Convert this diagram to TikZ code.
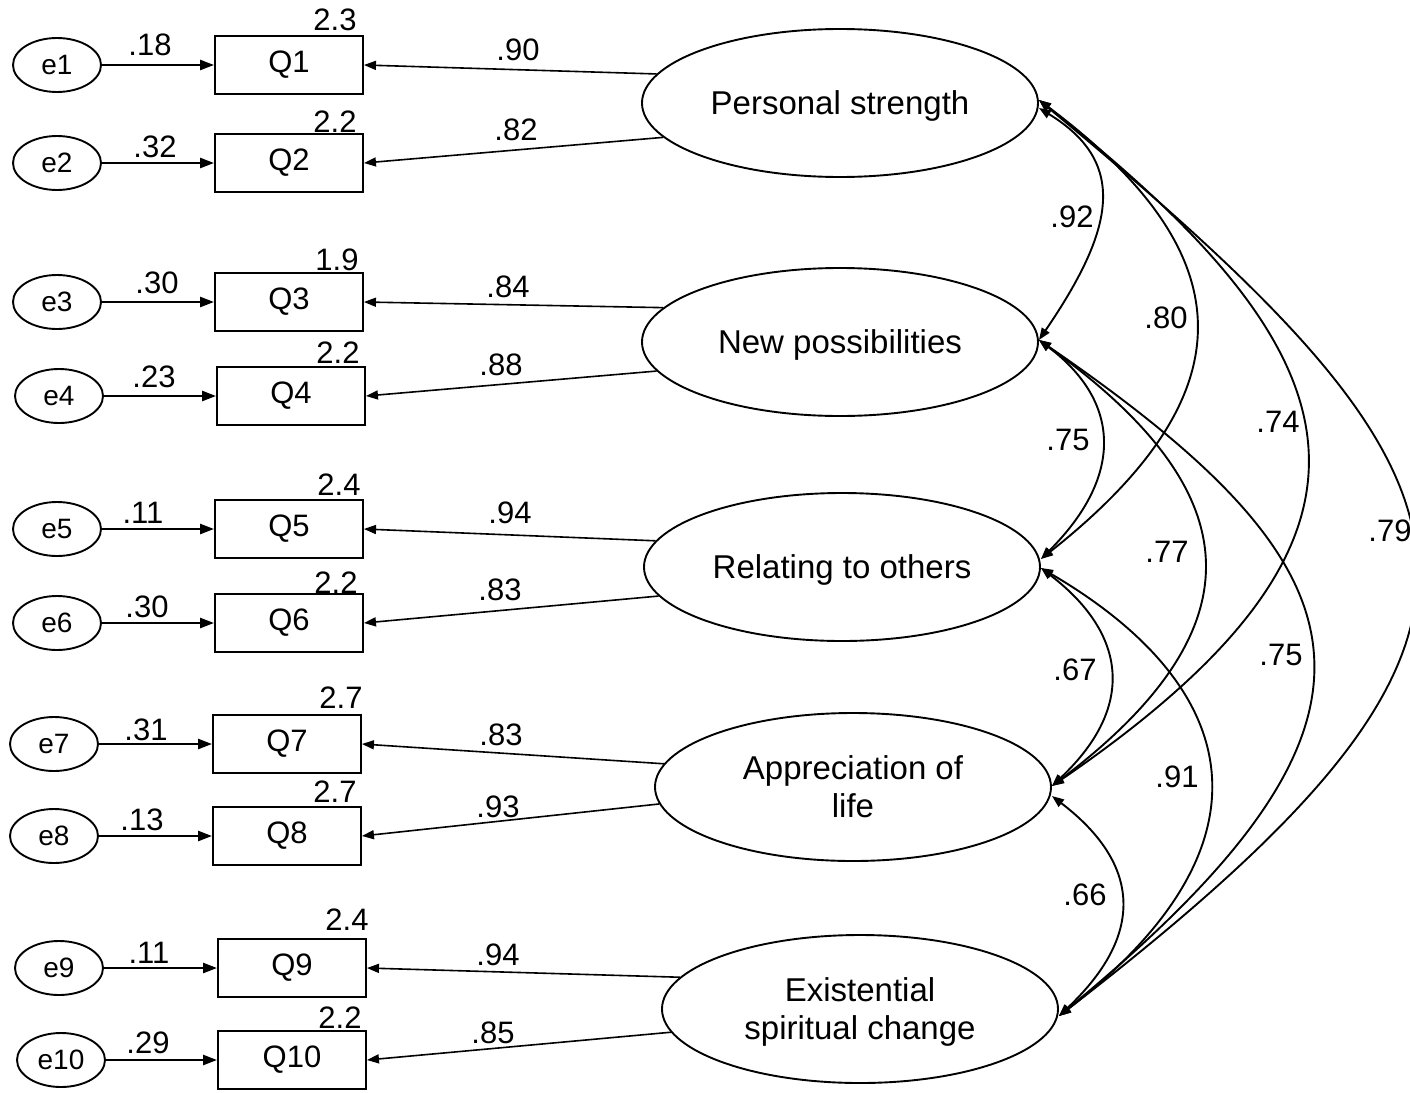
\documentclass[tikz,border=0pt]{standalone}
\usepackage{fontspec}
\setmainfont{Liberation Sans}
\usetikzlibrary{shapes.geometric,arrows.meta}
\begin{document}
\begin{tikzpicture}[x=1pt,y=-1pt,
  >={Triangle[length=12pt,width=9pt]},
  every node/.style={inner sep=0pt, font=\fontsize{31}{36}\selectfont},
  err/.style={draw, ellipse, line width=1.9pt, minimum width=88pt, minimum height=54pt, font=\fontsize{28}{32}\selectfont},
  obs/.style={draw, rectangle, line width=1.9pt, minimum width=148pt, minimum height=58pt},
  lat/.style={draw, ellipse, line width=1.9pt, minimum width=396pt, minimum height=148pt, align=center, text depth=0pt, font=\fontsize{33}{38}\selectfont},
  errarrow/.style={line width=2.4pt, -{Triangle[length=14pt,width=10pt]}},
  loadarrow/.style={line width=1.6pt, ->},
  cov/.style={line width=1.9pt, <->},
]
\useasboundingbox (0,0) rectangle (1410,1092);

% observed variables
\node[obs] (q1) at (289,65) {Q1};
\node[obs] (q2) at (289,163) {Q2};
\node[obs] (q3) at (289,302) {Q3};
\node[obs] (q4) at (291,396) {Q4};
\node[obs] (q5) at (289,529) {Q5};
\node[obs] (q6) at (289,623) {Q6};
\node[obs] (q7) at (287,744) {Q7};
\node[obs] (q8) at (287,836) {Q8};
\node[obs] (q9) at (292,968) {Q9};
\node[obs] (q10) at (292,1060) {Q10};

% error terms
\node[err] (e1) at (57,65) {e1};
\node[err] (e2) at (57,163) {e2};
\node[err] (e3) at (57,302) {e3};
\node[err] (e4) at (59,396) {e4};
\node[err] (e5) at (57,529) {e5};
\node[err] (e6) at (57,623) {e6};
\node[err] (e7) at (54,744) {e7};
\node[err] (e8) at (54,836) {e8};
\node[err] (e9) at (59,968) {e9};
\node[err] (e10) at (61,1060) {e10};

% latent variables
\node[lat] (ps) at (840,103) {Personal strength};
\node[lat] (np) at (840,342) {New possibilities};
\node[lat] (ro) at (842,567) {Relating to others};
\node[lat] (al) at (853,787) {Appreciation of\\life};
\node[lat] (es) at (860,1009) {Existential\\spiritual change};

% error arrows
\foreach \i in {1,...,10} {
  \draw[errarrow] (e\i) -- (q\i);
}

% loadings
\draw[loadarrow] (ps.171) -- (q1.east);
\draw[loadarrow] (ps.191) -- (q2.east);
\draw[loadarrow] (np.169) -- (q3.east);
\draw[loadarrow] (np.189) -- (q4.east);
\draw[loadarrow] (ro.172) -- (q5.east);
\draw[loadarrow] (ro.189.5) -- (q6.east);
\draw[loadarrow] (al.173) -- (q7.east);
\draw[loadarrow] (al.185) -- (q8.east);
\draw[loadarrow] (es.170) -- (q9.east);
\draw[loadarrow] (es.187) -- (q10.east);

% covariance end points
\coordinate (psA) at ([yshift=3pt]ps.east);
\coordinate (psB) at ([yshift=-5pt]ps.east);
\coordinate (npA) at ([yshift=2pt]np.east);
\coordinate (roA) at ([yshift=8pt]ro.east);
\coordinate (roB) at ([yshift=-1pt]ro.east);
\coordinate (alA) at ([yshift=1pt]al.east);
\coordinate (alB) at ([yshift=-9pt]al.east);
\coordinate (esA) at ([yshift=-7pt]es.east);

% covariances
\draw[cov] (psB) .. controls +(90,55) and +(75,-110) .. (npA);
\draw[cov] (psA) .. controls +(200,150) and +(215,-170) .. (roA);
\draw[cov] (psA) .. controls +(330,260) and +(365,-250) .. (alA);
\draw[cov] (psA) .. controls +(470,390) and +(505,-390) .. (esA);
\draw[cov] (npA) .. controls +(80,60) and +(85,-85) .. (roA);
\draw[cov] (npA) .. controls +(195,140) and +(225,-170) .. (alA);
\draw[cov] (npA) .. controls +(335,230) and +(365,-300) .. (esA);
\draw[cov] (roB) .. controls +(85,65) and +(85,-80) .. (alA);
\draw[cov] (roB) .. controls +(205,120) and +(220,-170) .. (esA);
\draw[cov] (alB) .. controls +(85,65) and +(90,-85) .. (esA);

% variance labels above boxes
\node (v1) at (335,20) {2.3};
\node (v2) at (335,122) {2.2};
\node (v3) at (337,260) {1.9};
\node (v4) at (338,353) {2.2};
\node (v5) at (339,485) {2.4};
\node (v6) at (336,583) {2.2};
\node (v7) at (341,698) {2.7};
\node (v8) at (335,792) {2.7};
\node (v9) at (347,920) {2.4};
\node (v10) at (340,1018) {2.2};

% error path labels
\node (w1) at (150,45) {.18};
\node (w2) at (155,147) {.32};
\node (w3) at (157,283) {.30};
\node (w4) at (154,377) {.23};
\node (w5) at (143,513) {.11};
\node (w6) at (147,607) {.30};
\node (w7) at (146,730) {.31};
\node (w8) at (142,820) {.13};
\node (w9) at (149,953) {.11};
\node (w10) at (148,1043) {.29};

% loading labels
\node (l1) at (518,50) {.90};
\node (l2) at (516,130) {.82};
\node (l3) at (508,287) {.84};
\node (l4) at (501,365) {.88};
\node (l5) at (510,513) {.94};
\node (l6) at (500,590) {.83};
\node (l7) at (501,735) {.83};
\node (l8) at (498,807) {.93};
\node (l9) at (498,955) {.94};
\node (l10) at (493,1033) {.85};

% covariance labels
\node (c1) at (1072,217) {.92};
\node (c2) at (1166,318) {.80};
\node (c3) at (1278,422) {.74};
\node (c4) at (1390,531) {.79};
\node (c5) at (1068,440) {.75};
\node (c6) at (1167,552) {.77};
\node (c7) at (1281,655) {.75};
\node (c8) at (1075,670) {.67};
\node (c9) at (1177,777) {.91};
\node (c10) at (1085,895) {.66};
\end{tikzpicture}
\end{document}
